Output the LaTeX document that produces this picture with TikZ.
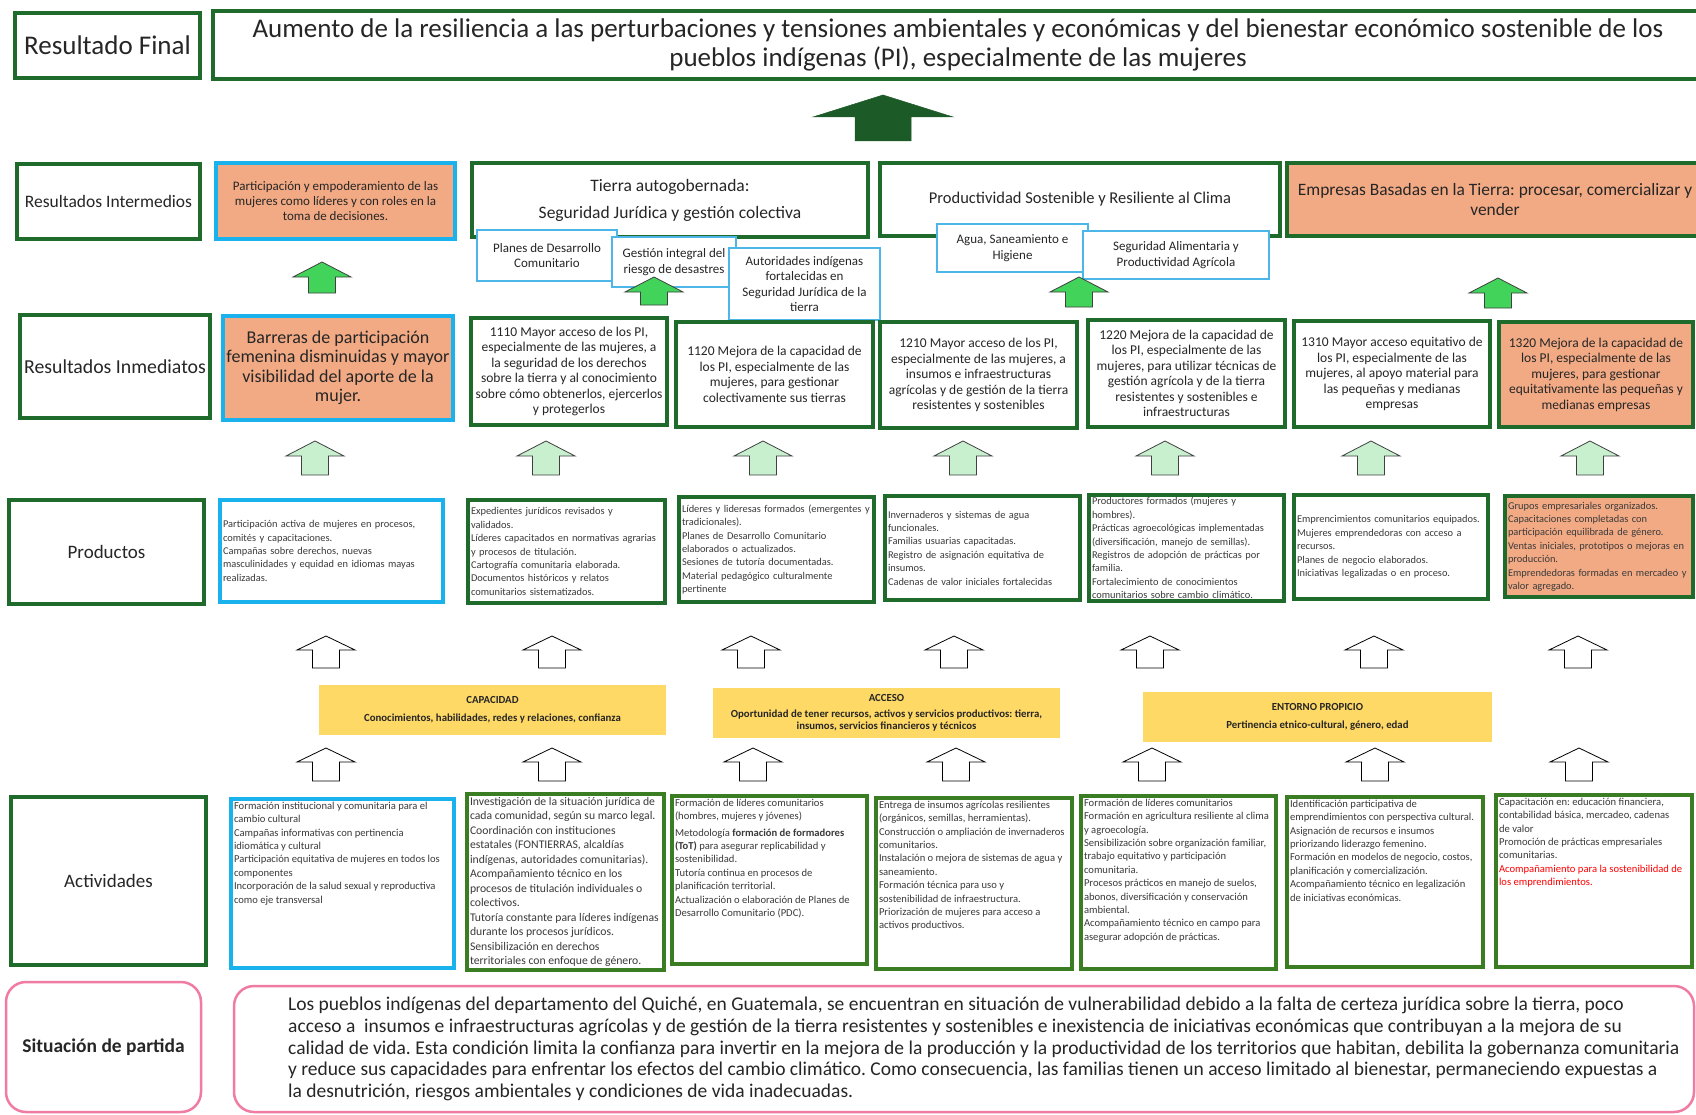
\documentclass[tikz,border=0pt]{standalone}
\usepackage{fontspec}
\setmainfont{Carlito}
\definecolor{dgreen}{HTML}{1E6B2B}
\definecolor{agreen}{HTML}{3B7D23}
\definecolor{cyanb}{HTML}{19B2EC}
\definecolor{lblue}{HTML}{4DB6E8}
\definecolor{orangef}{HTML}{F2AA84}
\definecolor{yell}{HTML}{FFD966}
\definecolor{pinkb}{HTML}{F07CA4}
\definecolor{brightg}{HTML}{41D35A}
\definecolor{paleg}{HTML}{C8F0CF}
\definecolor{darkg}{HTML}{1C5A27}
\definecolor{txt}{HTML}{262626}
\definecolor{txtg}{HTML}{3A3A3A}
\frenchspacing
\newcommand\blockup[7]{%
  \draw[#1] (#2,#3) -- ({#2+#5},{#3+#7}) -- ({#2+#6},{#3+#7}) -- ({#2+#6},#4)
    -- ({#2-#6},#4) -- ({#2-#6},{#3+#7}) -- ({#2-#5},{#3+#7}) -- cycle;}
\tikzset{
  lab/.style={draw=dgreen, line width=3.5pt, fill=white, align=center, inner sep=2pt, text=txt},
  gbox/.style={draw=dgreen, line width=3.5pt, fill=white, align=center, inner sep=2pt, text=txt},
  obox/.style={gbox, fill=orangef},
  bobox/.style={draw=cyanb, line width=3.5pt, fill=orangef, align=center, inner sep=2pt, text=txt},
  sbox/.style={draw=lblue, line width=2.5pt, fill=white, align=center, inner sep=2pt, text=txt,
     font=\fontsize{13}{15.5}\selectfont},
  imm/.style={gbox, font=\fontsize{13.5}{15.5}\selectfont},
  prod/.style={draw=dgreen, line width=3.5pt, fill=white, align=left, inner xsep=3pt, inner ysep=0pt,
     text=txtg, font=\fontsize{10.4}{13.4}\selectfont},
  act/.style={draw=agreen, line width=4pt, fill=white, inner sep=3pt, anchor=north west,
     text=txtg, font=\fontsize{10.6}{13.4}\selectfont},
  ybox/.style={fill=yell, draw=none, align=center, text=txt, font=\bfseries\fontsize{10.8}{12.5}\selectfont},
  pbox/.style={draw=pinkb, line width=2.5pt, rounded corners=20pt, fill=white, text=txt},
  arrB/.style={fill=brightg, draw=black!75, line width=0.8pt},
  arrP/.style={fill=paleg, draw=black!75, line width=0.8pt},
  arrW/.style={fill=white, draw=black, line width=0.8pt},
  arrD/.style={fill=darkg, draw=darkg, line width=0.5pt},
}
\begin{document}
\begin{tikzpicture}[x=1pt,y=-1pt]
\clip (0,0) rectangle (1696,1115);
\fill[white] (0,0) rectangle (1696,1115);

% ---------- Resultado final
\node[lab, minimum width=185pt, minimum height=65pt, font=\fontsize{27}{30}\selectfont] (rf) at (107.5,45.5) {Resultado Final};
\node[gbox, minimum width=1490pt, minimum height=68pt, font=\fontsize{27}{29.5}\selectfont] (title) at (958,45)
 {Aumento de la resiliencia a las perturbaciones y tensiones ambientales y económicas y del bienestar económico sostenible de los\\
  pueblos indígenas (PI), especialmente de las mujeres};

\blockup{arrD}{883}{95}{141}{70}{28}{22}

% ---------- Resultados intermedios
\node[lab, minimum width=183pt, minimum height=75pt, font=\fontsize{17.5}{20}\selectfont] (ri) at (108.5,201.5) {Resultados Intermedios};
\node[bobox, minimum width=239pt, minimum height=76pt, font=\fontsize{13}{15}\selectfont] (ri1) at (335.5,201)
 {Participación y empoderamiento de las\\mujeres como líderes y con roles en la\\toma de decisiones.};
\node[gbox, minimum width=396pt, minimum height=74pt, font=\fontsize{17.5}{19}\selectfont] (ri2) at (670,200)
 {Tierra autogobernada:\\[8pt]Seguridad Jurídica y gestión colectiva};
\node[gbox, minimum width=400pt, minimum height=73pt, font=\fontsize{16.5}{19}\selectfont] (ri3) at (1080,199.5)
 {Productividad Sostenible y Resiliente al Clima};
\node[obox, minimum width=416pt, minimum height=73pt, font=\fontsize{17.4}{20}\selectfont] (ri4) at (1495,199.5)
 {Empresas Basadas en la Tierra: procesar, comercializar y\\vender};

\node[sbox, minimum width=140pt, minimum height=51pt] (s1) at (547,255.5) {Planes de Desarrollo\\Comunitario};
\node[sbox, minimum width=124pt, minimum height=50pt] (s2) at (674,262) {Gestión integral del\\riesgo de desastres};
\node[sbox, minimum width=151pt, minimum height=72pt] (s3) at (804.5,284) {Autoridades indígenas\\fortalecidas en\\Seguridad Jurídica de la\\tierra};
\node[sbox, minimum width=151pt, minimum height=48pt] (s4) at (1012.5,248) {Agua, Saneamiento e\\Higiene};
\node[sbox, minimum width=186pt, minimum height=48pt] (s5) at (1176,255) {Seguridad Alimentaria y\\Productividad Agrícola};

\blockup{arrB}{322}{262}{293}{29}{13.5}{15}
\blockup{arrB}{654}{277}{305}{29}{13.5}{15}
\blockup{arrB}{1079}{277}{307}{29}{13.5}{15}
\blockup{arrB}{1498}{278}{308}{29}{13.5}{15}

% ---------- Resultados inmediatos
\node[lab, minimum width=190pt, minimum height=103pt, font=\fontsize{19.8}{22}\selectfont] (rim) at (115,366.5) {Resultados Inmediatos};
\node[bobox, minimum width=230pt, minimum height=104pt, font=\fontsize{18}{19.5}\selectfont] (im0) at (338,368)
 {Barreras de participación\\femenina disminuidas y mayor\\visibilidad del aporte de la\\mujer.};
\node[imm, minimum width=196pt, minimum height=107pt] (im1) at (569,371.5)
 {1110 Mayor acceso de los PI,\\especialmente de las mujeres, a\\la seguridad de los derechos\\sobre la tierra y al conocimiento\\sobre cómo obtenerlos, ejercerlos\\y protegerlos};
\node[imm, minimum width=197pt, minimum height=105pt] (im2) at (774.5,374.5)
 {1120 Mejora de la capacidad de\\los PI, especialmente de las\\mujeres, para gestionar\\colectivamente sus tierras};
\node[imm, minimum width=197pt, minimum height=106pt] (im3) at (978.5,375)
 {1210 Mayor acceso de los PI,\\especialmente de las mujeres, a\\insumos e infraestructuras\\agrícolas y de gestión de la tierra\\resistentes y sostenibles};
\node[imm, minimum width=197pt, minimum height=107pt] (im4) at (1186.5,373.5)
 {1220 Mejora de la capacidad de\\los PI, especialmente de las\\mujeres, para utilizar técnicas de\\gestión agrícola y de la tierra\\resistentes y sostenibles e\\infraestructuras};
\node[imm, minimum width=196pt, minimum height=106pt] (im5) at (1392,374)
 {1310 Mayor acceso equitativo de\\los PI, especialmente de las\\mujeres, al apoyo material para\\las pequeñas y medianas\\empresas};
\node[imm, fill=orangef, minimum width=194pt, minimum height=105pt] (im6) at (1596,374.5)
 {1320 Mejora de la capacidad de\\los PI, especialmente de las\\mujeres, para gestionar\\equitativamente las pequeñas y\\medianas empresas};

\foreach \cx in {315,546,763,963,1165,1371,1590} {\blockup{arrP}{\cx}{441}{475}{29}{13.5}{15}}

% ---------- Productos
\node[lab, minimum width=195pt, minimum height=104pt, font=\fontsize{19}{22}\selectfont] (pr) at (106.5,552) {Productos};
\node[prod, draw=cyanb, text width=217pt, minimum height=102pt] (p1) at (331.5,551)
 {Participación activa de mujeres en procesos,\\comités y capacitaciones.\\Campañas sobre derechos, nuevas\\masculinidades y equidad en idiomas mayas\\realizadas.};
\node[prod, text width=191pt, minimum height=103pt] (p2) at (566.5,551.5)
 {Expedientes jurídicos revisados y\\validados.\\Líderes capacitados en normativas agrarias\\y procesos de titulación.\\Cartografía comunitaria elaborada.\\Documentos históricos y relatos\\comunitarios sistematizados.};
\node[prod, text width=189pt, minimum height=105pt] (p3) at (776.5,549.5)
 {Líderes y lideresas formados (emergentes y\\tradicionales).\\Planes de Desarrollo Comunitario\\elaborados o actualizados.\\Sesiones de tutoría documentadas.\\Material pedagógico culturalmente\\pertinente};
\node[prod, text width=189pt, minimum height=104pt] (p4) at (982.5,548)
 {Invernaderos y sistemas de agua\\funcionales.\\Familias usuarias capacitadas.\\Registro de asignación equitativa de\\insumos.\\Cadenas de valor iniciales fortalecidas};
\node[prod, text width=189pt, minimum height=106pt] (p5) at (1186.5,548)
 {Productores formados (mujeres y\\hombres).\\Prácticas agroecológicas implementadas\\(diversificación, manejo de semillas).\\Registros de adopción de prácticas por\\familia.\\Fortalecimiento de conocimientos\\comunitarios sobre cambio climático.};
\node[prod, text width=188pt, minimum height=104pt] (p6) at (1391,547)
 {Emprencimientos comunitarios equipados.\\Mujeres emprendedoras con acceso a\\recursos.\\Planes de negocio elaborados.\\Iniciativas legalizadas o en proceso.};
\node[prod, fill=orangef, text width=182pt, minimum height=101pt] (p7) at (1599,546.5)
 {Grupos empresariales organizados.\\Capacitaciones completadas con\\participación equilibrada de género.\\Ventas iniciales, prototipos o mejoras en\\producción.\\Emprendedoras formadas en mercadeo y\\valor agregado.};

\foreach \cx in {326,552,751,954,1150,1374,1578} {\blockup{arrW}{\cx}{636}{668}{29}{13.5}{14}}

% ---------- Capacidad / Acceso / Entorno
\node[ybox, minimum width=347pt, minimum height=50pt] (y1) at (492.5,710)
 {CAPACIDAD\\[5pt]Conocimientos, habilidades, redes y relaciones, confianza};
\node[ybox, minimum width=347pt, minimum height=50pt] (y2) at (886.5,713)
 {ACCESO\\[3pt]Oportunidad de tener recursos, activos y servicios productivos: tierra,\\insumos, servicios financieros y técnicos};
\node[ybox, minimum width=349pt, minimum height=50pt] (y3) at (1317.5,717)
 {ENTORNO PROPICIO\\[5pt]Pertinencia etnico-cultural, género, edad};

\foreach \cx in {326,552,753,956,1152,1375,1579} {\blockup{arrW}{\cx}{748}{781}{29}{13.5}{14}}

% ---------- Actividades
\node[lab, minimum width=195pt, minimum height=168pt, font=\fontsize{19}{22}\selectfont] (ac) at (108.5,881) {Actividades};
\node[act, draw=cyanb] (a1) at (229,797) {\parbox[c][163pt][t]{217pt}{\raggedright
 Formación institucional y comunitaria para el\\cambio cultural\\Campañas informativas con pertinencia\\idiomática y cultural\\Participación equitativa de mujeres en todos los\\componentes\\Incorporación de la salud sexual y reproductiva\\como eje transversal}};
\node[act, font=\fontsize{11.7}{14.5}\selectfont] (a2) at (465,792) {\parbox[c][170pt][t]{191pt}{\raggedright
 Investigación de la situación jurídica de\\cada comunidad, según su marco legal.\\Coordinación con instituciones\\estatales (FONTIERRAS, alcaldías\\indígenas, autoridades comunitarias).\\Acompañamiento técnico en los\\procesos de titulación individuales o\\colectivos.\\Tutoría constante para líderes indígenas\\durante los procesos jurídicos.\\Sensibilización en derechos\\territoriales con enfoque de género.}};
\node[act] (a3) at (670,794) {\parbox[c][162pt][t]{189pt}{\raggedright
 Formación de líderes comunitarios\\(hombres, mujeres y jóvenes)\\[3pt]Metodología \textbf{formación de formadores}\\\textbf{(ToT)} para asegurar replicabilidad y\\sostenibilidad.\\Tutoría continua en procesos de\\planificación territorial.\\Actualización o elaboración de Planes de\\Desarrollo Comunitario (PDC).}};
\node[act] (a4) at (874,796) {\parbox[c][165pt][t]{190pt}{\raggedright
 Entrega de insumos agrícolas resilientes\\(orgánicos, semillas, herramientas).\\Construcción o ampliación de invernaderos\\comunitarios.\\Instalación o mejora de sistemas de agua y\\saneamiento.\\Formación técnica para uso y\\sostenibilidad de infraestructura.\\Priorización de mujeres para acceso a\\activos productivos.}};
\node[act] (a5) at (1079,794) {\parbox[c][167pt][t]{189pt}{\raggedright
 Formación de líderes comunitarios\\Formación en agricultura resiliente al clima\\y agroecología.\\Sensibilización sobre organización familiar,\\trabajo equitativo y participación\\comunitaria.\\Procesos prácticos en manejo de suelos,\\abonos, diversificación y conservación\\ambiental.\\Acompañamiento técnico en campo para\\asegurar adopción de prácticas.}};
\node[act] (a6) at (1285,795) {\parbox[c][164pt][t]{190pt}{\raggedright
 Identificación participativa de\\emprendimientos con perspectiva cultural.\\Asignación de recursos e insumos\\priorizando liderazgo femenino.\\Formación en modelos de negocio, costos,\\planificación y comercialización.\\Acompañamiento técnico en legalización\\de iniciativas económicas.}};
\node[act] (a7) at (1494,793) {\parbox[c][166pt][t]{190pt}{\raggedright
 Capacitación en: educación financiera,\\contabilidad básica, mercadeo, cadenas\\de valor\\Promoción de prácticas empresariales\\comunitarias.\\{\color{red}Acompañamiento para la sostenibilidad de\\los emprendimientos.}}};

% ---------- Situación de partida
\node[pbox, minimum width=195pt, minimum height=130pt, font=\bfseries\fontsize{19.5}{22}\selectfont] (sp) at (103.5,1047) {Situación de partida};
\node[pbox, minimum width=1460pt, minimum height=126pt] (spbox) at (964,1049) {};
\node[anchor=west, align=left, inner sep=0pt, text=txt, font=\fontsize{19.5}{21.7}\selectfont] (spt) at (288,1049)
 {Los pueblos indígenas del departamento del Quiché, en Guatemala, se encuentran en situación de vulnerabilidad debido a la falta de certeza jurídica sobre la tierra, poco\\
  acceso a\ \ insumos e infraestructuras agrícolas y de gestión de la tierra resistentes y sostenibles e inexistencia de iniciativas económicas que contribuyan a la mejora de su\\
  calidad de vida. Esta condición limita la confianza para invertir en la mejora de la producción y la productividad de los territorios que habitan, debilita la gobernanza comunitaria\\
  y reduce sus capacidades para enfrentar los efectos del cambio climático. Como consecuencia, las familias tienen un acceso limitado al bienestar, permaneciendo expuestas a\\
  la desnutrición, riesgos ambientales y condiciones de vida inadecuadas.};
\end{tikzpicture}
\end{document}
